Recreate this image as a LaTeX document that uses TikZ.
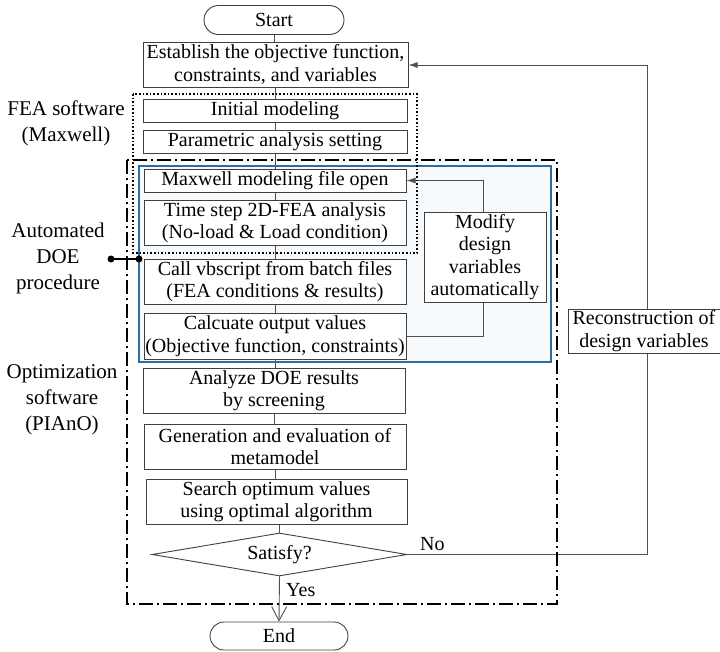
\documentclass[tikz,border=0pt]{standalone}
\usepackage{fontspec}
\setmainfont{Liberation Serif}
\usetikzlibrary{shapes.geometric,shapes.misc,arrows.meta}
\definecolor{boxline}{HTML}{404040}
\definecolor{flowline}{HTML}{505050}
\definecolor{bluebox}{HTML}{2E6DA4}
\definecolor{bluefill}{HTML}{F7FAFD}
\begin{document}
\begin{tikzpicture}[x=1pt,y=-1pt,
  every node/.style={font=\fontsize{20}{22.5}\selectfont},
  box/.style={draw=boxline, line width=1pt, fill=white, rectangle, inner sep=0pt, align=center},
  term/.style={draw=boxline, line width=0.9pt, rounded rectangle, fill=white, inner sep=0pt},
  flow/.style={draw=flowline, line width=0.9pt},
  sidelabel/.style={align=center, font=\fontsize{21}{26}\selectfont},
  filledtip/.style={-{Latex[length=9pt,width=6pt]}},
  opentip/.style={-{Straight Barb[length=14pt,width=15pt]}},
  dotframe/.style={draw=black, line width=1.6pt, dotted},
  dashdotframe/.style={draw=black, line width=1.8pt, dash pattern=on 14pt off 4pt on 2pt off 4pt},
]
\useasboundingbox (0,0) rectangle (720,651);
\fill[bluefill] (139,166) rectangle (551,362);

\node[term, minimum width=140pt, minimum height=29pt] (start) at (274,20) {Start};
\node[box, minimum width=265pt, minimum height=45pt] (est) at (275.5,64.5) {Establish the objective function,\\constraints, and variables};
\node[box, minimum width=264pt, minimum height=23pt] (init) at (275,110.5) {Initial modeling};
\node[box, minimum width=264pt, minimum height=23pt] (param) at (275,141.5) {Parametric analysis setting};
\node[box, minimum width=262pt, minimum height=23pt] (maxw) at (275,180.5) {Maxwell modeling file open};
\node[box, minimum width=262pt, minimum height=45pt] (time) at (275,222.5) {Time step 2D-FEA analysis\\(No-load \& Load condition)};
\node[box, minimum width=262pt, minimum height=45pt] (call) at (275,281.5) {Call vbscript from batch files\\(FEA conditions \& results)};
\node[box, minimum width=262pt, minimum height=46pt] (calc) at (275,336) {Calcuate output values\\(Objective function, constraints)};
\node[box, minimum width=122pt, minimum height=90pt] (modify) at (485,257) {Modify\\design\\variables\\automatically};
\node[box, minimum width=262pt, minimum height=45pt] (analyze) at (274,390.5) {Analyze DOE results\\by screening};
\node[box, minimum width=262pt, minimum height=45pt] (gen) at (275,446.5) {Generation and evaluation of\\metamodel};
\node[box, minimum width=261pt, minimum height=45pt] (search) at (276.5,501.5) {Search optimum values\\using optimal algorithm};
\node[draw=boxline, line width=0.9pt, diamond, aspect=6, inner sep=0pt, minimum width=255pt, minimum height=43pt, fill=white] (dia) at (279.5,554.5) {Satisfy?};
\node[term, minimum width=138pt, minimum height=28pt] (end) at (279,636) {End};

\draw[flow] (start.south) -- (start.south |- est.north);
\draw[flow] (est.south) -- (est.south |- init.north);
\draw[flow] (init.south) -- (init.south |- param.north);
\draw[flow] (param.south) -- (param.south |- maxw.north);
\draw[flow] (maxw.south) -- (maxw.south |- time.north);
\draw[flow] (time.south) -- (time.south |- call.north);
\draw[flow] (call.south) -- (call.south |- calc.north);
\draw[flow] (calc.south) -- (calc.south |- analyze.north);
\draw[flow] (analyze.south) -- (analyze.south |- gen.north);
\draw[flow] (gen.south) -- (gen.south |- search.north);
\draw[flow] (dia.north |- search.south) -- (dia.north);
\draw[flow, opentip] (dia.south) -- (end.north);

\coordinate (loopc) at (483,180.5);
\draw[flow, filledtip] (modify.north -| loopc) -- (loopc) -- (maxw.east);
\draw[flow] (calc.east) -- (calc.east -| loopc) -- (modify.south -| loopc);

\coordinate (noc) at (647,554.5);
\coordinate (topc) at (647,65);
\draw[flow, filledtip] (dia.east) -- (noc) -- (topc) -- (est.east |- topc);
\node[box, minimum width=152pt, minimum height=44pt] (recon) at (644,331) {Reconstruction of\\design variables};

\node[anchor=base west, inner sep=0pt] (nolab) at (420,550) {No};
\node[anchor=base west, inner sep=0pt] (yeslab) at (286,596) {Yes};

\node[sidelabel] (fea) at (66,123) {FEA software\\(Maxwell)};
\node[sidelabel] (auto) at (58,258) {Automated\\DOE\\procedure};
\node[sidelabel] (opt) at (62,400) {Optimization\\software\\(PIAnO)};

\draw[bluebox, line width=1.8pt] (139,166) rectangle (551,362);
\draw[dotframe] (133,94) rectangle (417,253);
\draw[dashdotframe] (127,160) rectangle (557,604);

\coordinate (dotl) at (111,259);
\coordinate (dotr) at (139,259);
\draw[line width=1.6pt] (dotl) -- (dotr);
\fill (dotl) circle (3.5pt);
\fill (dotr) circle (3.5pt);
\end{tikzpicture}
\end{document}
